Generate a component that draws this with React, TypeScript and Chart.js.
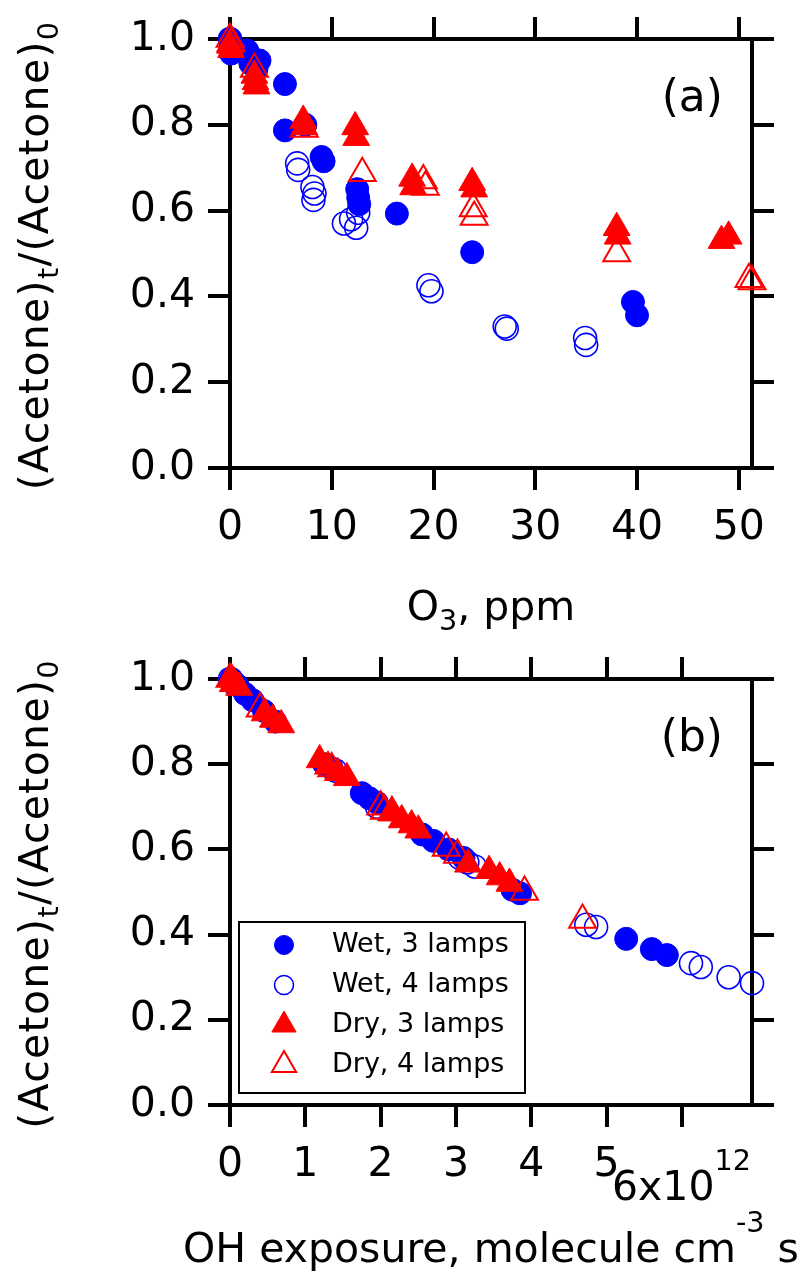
import { useEffect, useRef } from 'react';
import { Chart, registerables } from 'chart.js';
import { drawPoint } from 'chart.js/helpers';

Chart.register(...registerables);

const FONT = '"DejaVu Sans", Verdana, sans-serif';
const BLUE = '#0000ff';
const RED = '#ff0000';

const SERIES_NAMES = ['Wet, 3 lamps', 'Wet, 4 lamps', 'Dry, 3 lamps', 'Dry, 4 lamps'];

// ---------- Panel (a): O3, ppm ----------
const A_X_TICK_STEP = 10;
const A_X_MAX = 51.3;
const aWet3X = [0, 0.2, 0.1, 1.7, 2.9, 2.0, 2.6, 5.4, 5.4, 7.4, 9.0, 9.2, 12.5, 12.6, 12.7, 16.4, 23.8, 39.6, 40.0];
const aWet3Y = [1.0, 0.985, 0.966, 0.973, 0.95, 0.943, 0.93, 0.895, 0.787, 0.8, 0.725, 0.715, 0.65, 0.63, 0.615, 0.593, 0.503, 0.387, 0.356];
const aWet4X = [0, 0.1, 0.2, 6.6, 6.7, 8.1, 8.3, 8.2, 11.2, 11.9, 12.4, 12.6, 19.5, 19.8, 27.0, 27.2, 34.9, 35.0];
const aWet4Y = [1.0, 0.99, 0.975, 0.71, 0.695, 0.655, 0.64, 0.625, 0.57, 0.58, 0.56, 0.595, 0.426, 0.412, 0.33, 0.325, 0.303, 0.287];
const aDry3X = [0, 0.1, 2.4, 2.5, 2.6, 7.2, 7.3, 12.3, 12.4, 17.9, 18.0, 23.8, 24.0, 38.0, 38.1, 48.3, 49.0];
const aDry3Y = [0.985, 0.975, 0.915, 0.9, 0.89, 0.81, 0.795, 0.795, 0.77, 0.675, 0.655, 0.665, 0.65, 0.56, 0.54, 0.53, 0.54];
const aDry4X = [0, 0.1, 2.4, 7.3, 13.0, 19.0, 19.2, 23.9, 24.0, 38.0, 51.0, 51.3];
const aDry4Y = [1.0, 0.99, 0.93, 0.79, 0.687, 0.67, 0.655, 0.605, 0.585, 0.5, 0.44, 0.435];

// ---------- Panel (b): OH exposure, 10^12 molecule cm^-3 s ----------
const B_X_EXPONENT = 12;
const B_X_TICK_STEP = 1;
const B_X_MAX = 6.93;
const bWet3X = [0.02, 0.1, 0.2, 0.3, 0.45, 0.6, 1.25, 1.35, 1.75, 1.85, 1.95, 2.55, 2.7, 2.9, 3.1, 3.75, 3.85, 5.26, 5.6, 5.8];
const bWet3Y = [1.0, 0.985, 0.965, 0.95, 0.925, 0.9, 0.8, 0.79, 0.732, 0.72, 0.71, 0.635, 0.62, 0.6, 0.58, 0.505, 0.497, 0.39, 0.366, 0.352];
const bWet4X = [0.0, 0.05, 1.4, 1.95, 3.05, 3.15, 3.25, 4.73, 4.86, 6.12, 6.25, 6.62, 6.93];
const bWet4Y = [1.0, 0.99, 0.785, 0.7, 0.58, 0.57, 0.56, 0.423, 0.418, 0.333, 0.324, 0.3, 0.286];
const bDry3X = [0.02, 0.06, 0.12, 0.46, 0.57, 0.68, 1.19, 1.3, 1.43, 1.55, 2.15, 2.28, 2.41, 2.5, 3.16, 3.44, 3.58, 3.71];
const bDry3Y = [1.0, 0.99, 0.98, 0.92, 0.905, 0.892, 0.81, 0.795, 0.78, 0.768, 0.685, 0.669, 0.657, 0.645, 0.565, 0.55, 0.535, 0.52];
const bDry4X = [0.0, 0.05, 0.4, 1.35, 2.0, 2.05, 2.15, 2.87, 3.02, 3.91, 4.68];
const bDry4Y = [1.0, 0.99, 0.93, 0.79, 0.7, 0.69, 0.687, 0.603, 0.587, 0.5, 0.434];

const Y_TICK_STEP = 0.2;

type Part = { t: string; s?: 'sub' | 'sup' };

const STYLES = [
  { pointStyle: 'circle', radius: 11.5, fill: BLUE, stroke: BLUE, bw: 1, lr: 9.5 },
  { pointStyle: 'circle', radius: 11.5, fill: 'rgba(0,0,0,0)', stroke: BLUE, bw: 1.6, lr: 9.5 },
  { pointStyle: 'triangle', radius: 15.5, fill: RED, stroke: RED, bw: 1, lr: 14 },
  { pointStyle: 'triangle', radius: 15.5, fill: 'rgba(0,0,0,0)', stroke: RED, bw: 2, lr: 14 },
];

const W = 798;
const H = 636;
const PLOT_LEFT = 230;
const PLOT_RIGHT = 752;
const TICK_FONT = 41;
const TITLE_FONT = 41;

function zip(xs: number[], ys: number[]) {
  return xs.map((x, i) => ({ x, y: ys[i] }));
}

function drawRich(
  ctx: CanvasRenderingContext2D,
  parts: Part[],
  x: number,
  y: number,
  size: number,
  align: 'center' | 'left',
  spacing = 0
) {
  const small = size * 0.7;
  (ctx as any).letterSpacing = `${spacing}px`;
  const widths = parts.map((p) => {
    ctx.font = `${p.s ? small : size}px ${FONT}`;
    return ctx.measureText(p.t).width;
  });
  const total = widths.reduce((a, b) => a + b, 0);
  let cx = align === 'center' ? x - total / 2 : x;
  ctx.textAlign = 'left';
  ctx.textBaseline = 'alphabetic';
  parts.forEach((p, i) => {
    ctx.font = `${p.s ? small : size}px ${FONT}`;
    const off = p.s === 'sub' ? size * 0.25 : p.s === 'sup' ? -size * 0.72 : 0;
    ctx.fillText(p.t, cx, y + off);
    cx += widths[i];
  });
  (ctx as any).letterSpacing = '0px';
}

const Y_TITLE: Part[] = [{ t: '(Acetone)' }, { t: 't', s: 'sub' }, { t: '/(Acetone)' }, { t: '0', s: 'sub' }];

type PanelSpec = {
  series: { x: number; y: number }[][];
  xMax: number;
  xStep: number;
  top: number;
  bottom: number;
  xTitle: Part[];
  xTitleDy: number;
  label: string;
  legend: boolean;
  exponentTick?: number;
};

function makeChart(canvas: HTMLCanvasElement, p: PanelSpec) {
  const textPlugin = {
    id: 'panelText',
    afterDraw(chart: any) {
      const ctx: CanvasRenderingContext2D = chart.ctx;
      const ca = chart.chartArea;
      ctx.save();
      ctx.fillStyle = '#000';
      // y title (rotated)
      ctx.save();
      ctx.translate(48, (ca.top + ca.bottom) / 2 + 2);
      ctx.rotate(-Math.PI / 2);
      drawRich(ctx, Y_TITLE, 0, 0, TITLE_FONT, 'center', 1.3);
      ctx.restore();
      // x title
      drawRich(ctx, p.xTitle, (ca.left + ca.right) / 2, ca.bottom + p.xTitleDy, TITLE_FONT, 'center');
      // panel label
      ctx.font = `44px ${FONT}`;
      ctx.textAlign = 'right';
      ctx.textBaseline = 'alphabetic';
      ctx.fillText(p.label, ca.right - 29, ca.top + 72);
      // exponent tick label
      if (p.exponentTick !== undefined) {
        const px = chart.scales.x.getPixelForValue(p.exponentTick);
        drawRich(
          ctx,
          [{ t: `${p.exponentTick}x10` }, { t: String(B_X_EXPONENT), s: 'sup' }],
          px - 70,
          ca.bottom + 95,
          TICK_FONT,
          'left'
        );
      }
      // legend
      if (p.legend) {
        const bx = 239, by = 286, bw = 286, bh = 171;
        ctx.lineWidth = 2;
        ctx.strokeStyle = '#000';
        ctx.strokeRect(bx, by, bw, bh);
        chart.data.datasets.forEach((ds: any, i: number) => {
          const ry = by + 23 + i * 40;
          const st = STYLES[i];
          ctx.fillStyle = st.fill;
          ctx.strokeStyle = st.stroke;
          ctx.lineWidth = st.bw;
          drawPoint(ctx, { pointStyle: st.pointStyle as any, rotation: 0, radius: st.lr, borderWidth: st.bw }, bx + 45, ry);
          ctx.fillStyle = '#000';
          ctx.font = `27px ${FONT}`;
          ctx.textAlign = 'left';
          ctx.textBaseline = 'middle';
          ctx.fillText(ds.label, bx + 93, ry);
        });
      }
      ctx.restore();
    },
  };

  const grid = { drawOnChartArea: false, drawTicks: true, tickLength: 22, lineWidth: 4, color: '#000' };
  const border = { display: true, width: 4, color: '#000' };
  const tickFont = { family: FONT, size: TICK_FONT };

  return new Chart(canvas, {
    type: 'scatter',
    data: {
      datasets: p.series.map((s, i) => ({
        label: SERIES_NAMES[i],
        data: s,
        order: 3 - i,
        clip: false as any,
        showLine: false,
        pointStyle: STYLES[i].pointStyle as any,
        pointRadius: STYLES[i].radius,
        pointHoverRadius: STYLES[i].radius,
        pointBackgroundColor: STYLES[i].fill,
        pointBorderColor: STYLES[i].stroke,
        pointBorderWidth: STYLES[i].bw,
      })),
    },
    options: {
      responsive: false,
      animation: false,
      devicePixelRatio: 1,
      events: [],
      layout: { padding: 0 },
      plugins: { legend: { display: false }, tooltip: { enabled: false } },
      scales: {
        x: {
          type: 'linear',
          position: 'bottom',
          min: 0,
          max: p.xMax,
          grid,
          border,
          ticks: {
            stepSize: p.xStep,
            includeBounds: false,
            autoSkip: false,
            maxRotation: 0,
            padding: 14,
            color: '#000',
            font: tickFont,
            callback: (v: any) => (p.exponentTick !== undefined && Math.abs(v - p.exponentTick) < 1e-9 ? '' : String(Math.round(v))),
          },
          afterFit: (s: any) => {
            s.height = H - p.bottom;
          },
        },
        x2: {
          type: 'linear',
          position: 'top',
          min: 0,
          max: p.xMax,
          grid,
          border,
          ticks: { stepSize: p.xStep, includeBounds: false, display: false },
          afterFit: (s: any) => {
            s.height = p.top;
          },
        },
        y: {
          type: 'linear',
          position: 'left',
          min: 0,
          max: 1,
          grid,
          border,
          ticks: {
            stepSize: Y_TICK_STEP,
            padding: 13,
            color: '#000',
            font: tickFont,
            callback: (v: any) => Number(v).toFixed(1),
          },
          afterFit: (s: any) => {
            s.width = PLOT_LEFT;
          },
        },
        y2: {
          type: 'linear',
          position: 'right',
          min: 0,
          max: 1,
          grid,
          border,
          ticks: { stepSize: Y_TICK_STEP, display: false },
          afterFit: (s: any) => {
            s.width = W - PLOT_RIGHT;
          },
        },
      },
    } as any,
    plugins: [textPlugin],
  });
}

export default function App() {
  const refA = useRef<HTMLCanvasElement>(null);
  const refB = useRef<HTMLCanvasElement>(null);

  useEffect(() => {
    const a = makeChart(refA.current!, {
      series: [zip(aWet3X, aWet3Y), zip(aWet4X, aWet4Y), zip(aDry3X, aDry3Y), zip(aDry4X, aDry4Y)],
      xMax: A_X_MAX,
      xStep: A_X_TICK_STEP,
      top: 39,
      bottom: 468,
      xTitle: [{ t: 'O' }, { t: '3', s: 'sub' }, { t: ', ppm' }],
      xTitleDy: 152,
      label: '(a)',
      legend: false,
    });
    const b = makeChart(refB.current!, {
      series: [zip(bWet3X, bWet3Y), zip(bWet4X, bWet4Y), zip(bDry3X, bDry3Y), zip(bDry4X, bDry4Y)],
      xMax: B_X_MAX,
      xStep: B_X_TICK_STEP,
      top: 43,
      bottom: 469,
      xTitle: [{ t: 'OH exposure, molecule cm' }, { t: '-3', s: 'sup' }, { t: ' s' }],
      xTitleDy: 157,
      label: '(b)',
      legend: true,
      exponentTick: 6,
    });
    return () => {
      a.destroy();
      b.destroy();
    };
  }, []);

  return (
    <div style={{ position: 'absolute', left: 0, top: 0, width: W, height: 2 * H, background: '#fff' }}>
      <canvas ref={refA} width={W} height={H} style={{ display: 'block', width: W, height: H }} />
      <canvas ref={refB} width={W} height={H} style={{ display: 'block', width: W, height: H }} />
    </div>
  );
}
